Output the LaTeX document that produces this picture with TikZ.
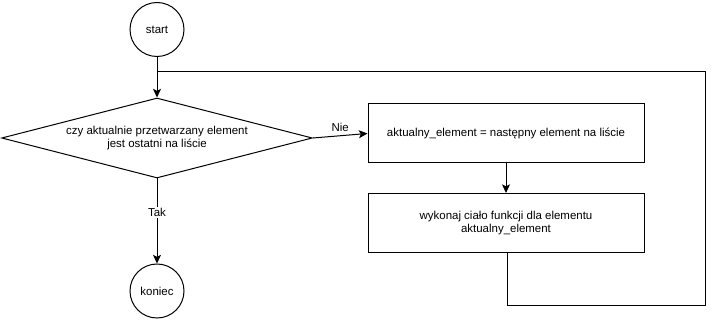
\documentclass[tikz,border=0pt]{standalone}
\usepackage{fontspec}
\setmainfont{Liberation Sans}
\usetikzlibrary{arrows.meta,shapes.geometric}
\begin{document}
\begin{tikzpicture}[x=0.75pt,y=-0.75pt,
  every node/.style={font=\fontsize{8.6pt}{10.4pt}\selectfont, text=black},
  line/.style={draw=black, line width=0.75pt},
  arr/.style={line, -{Stealth[length=6.5pt,width=6pt,inset=1.5pt]}},
  term/.style={line, circle, minimum size=40.5pt, inner sep=0pt},
  proc/.style={line, rectangle, minimum width=207pt, minimum height=44.25pt, inner sep=0pt, align=center},
  cond/.style={line, diamond, aspect=3.9, minimum width=233pt, minimum height=60pt, inner sep=0pt, align=center},
  lbl/.style={fill=white, inner sep=1pt}]
  \useasboundingbox (0,0) rectangle (715,320);
  % nodes
  \node[term] (start) at (157,29.5) {start};
  \node[cond] (check) at (157,138) {czy aktualnie przetwarzany element\\jest ostatni na liście};
  \node[proc] (next) at (506,133.5) {aktualny\_element = następny element na liście};
  \node[proc] (body) at (506,223) {wykonaj ciało funkcji dla elementu\\aktualny\_element};
  \node[term] (end) at (157,291) {koniec};
  % helper points of the loop back
  \coordinate (join) at (157,72);
  \coordinate (c1) at (507,306);
  \coordinate (c2) at (705,306);
  \coordinate (c3) at (705,72);
  % connectors
  \draw[arr] (start.south) -- (check.north);
  \draw[arr] (check.east) -- node[above, inner sep=3pt, pos=0.5] {Nie} (next.west);
  \draw[arr] (check.south) -- node[lbl, pos=0.4] {Tak} (end.north);
  \draw[arr] (next.south) -- (body.north);
  \draw[line] (body.south -| c1) -- (c1) -- (c2) -- (c3) -- (join);
\end{tikzpicture}
\end{document}
